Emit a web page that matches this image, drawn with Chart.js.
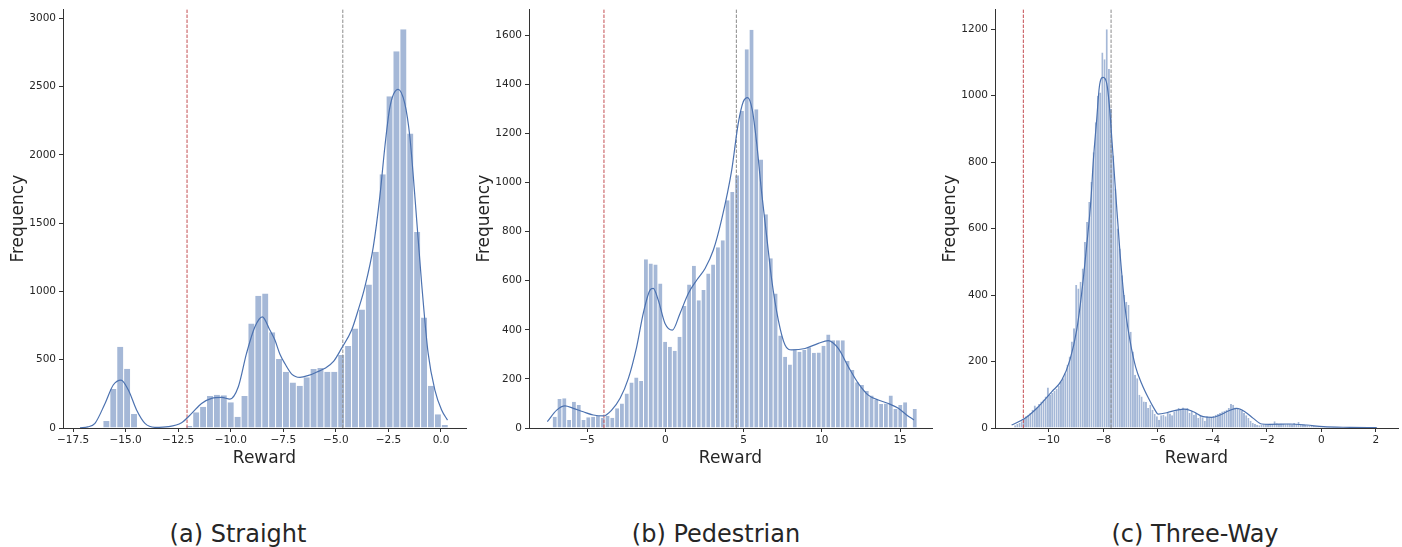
<!DOCTYPE html>
<html>
<head>
<meta charset="utf-8">
<script src="https://cdn.jsdelivr.net/npm/chart.js@4.4.1/dist/chart.umd.min.js"></script>
<style>
  body { margin: 0; background: #fff; }
  #page { position: relative; width: 1402px; height: 547px; background: #fff; overflow: hidden; }
  #page canvas { position: absolute; top: 0; }
  .caption {
    position: absolute; top: 520px; width: 300px; margin-left: -150px;
    text-align: center; font: 24px "DejaVu Sans", sans-serif; color: #262626;
  }
</style>
</head>
<body>
<div id="page">
  <canvas id="straight" width="470" height="470" style="left:0px"></canvas>
  <canvas id="pedestrian" width="470" height="470" style="left:466px"></canvas>
  <canvas id="threeway" width="470" height="470" style="left:932px"></canvas>
  <div class="caption" style="left:238px">(a) Straight</div>
  <div class="caption" style="left:716px">(b) Pedestrian</div>
  <div class="caption" style="left:1195px">(c) Three-Way</div>
</div>
<script>
"use strict";

// (a) Straight
const straightBinStart = -16.08;
const straightBinWidth = 0.3285;
const straightCounts = [51, 285, 595, 434, 102, 0, 0, 0, 0, 0, 0, 0, 15, 115, 156, 234, 244, 239, 188, 83,
  234, 766, 968, 985, 702, 505, 412, 334, 310, 371, 432, 439, 412, 412, 534, 600, 729, 868, 1051, 1290,
  1858, 2429, 2758, 2919, 2156, 1436, 810, 310, 100, 22];
const straightKdeX = [-17.17, -16.8, -16.46, -15.98, -15.59, -15.22, -14.87, -14.48, -14.08, -13.61, -12.97,
  -12.34, -11.86, -11.39, -10.91, -10.43, -10.04, -9.64, -9.25, -8.85, -8.5, -8.14, -7.9, -7.66, -7.42, -7.1,
  -6.71, -6.3, -5.9, -5.52, -5.1, -4.73, -4.25, -3.94, -3.62, -3.22, -2.91, -2.67, -2.43, -2.04, -1.72, -1.48,
  -1.24, -0.92, -0.61, -0.29, 0.03, 0.31];
const straightKdeY = [2, 8, 34, 180, 315, 351, 278, 132, 34, 5, 10,
  39, 107, 180, 217, 224, 212, 302, 546, 741, 814, 717, 644, 540, 470, 395,
  371, 385, 410, 437, 490, 583, 717, 863, 1034, 1326, 1692, 2058, 2350, 2480, 2375, 2131,
  1692, 1058, 546, 278, 132, 58];
const straightLines = [-12.08, -4.67];
const straightXTicks = [-17.5, -15, -12.5, -10, -7.5, -5, -2.5, 0];
const straightYTicks = [0, 500, 1000, 1500, 2000, 2500, 3000];

// (b) Pedestrian
const pedestrianBinStart = -7.22;
const pedestrianBinWidth = 0.3067;
const pedestrianCounts = [46, 118, 121, 33, 107, 94, 33, 44, 46, 50, 42, 50, 42, 80, 100, 141, 185, 206, 191, 688,
  670, 666, 589, 351, 331, 315, 372, 497, 585, 661, 521, 562, 630, 666, 736, 765, 928, 962, 1030, 1292,
  1543, 1623, 1299, 1094, 871, 692, 548, 377, 290, 259, 320, 311, 318, 329, 307, 308, 335, 381, 358, 358,
  358, 273, 236, 186, 175, 151, 132, 114, 98, 100, 132, 77, 94, 105, 0, 77];
const pedestrianKdeX = [-7.54, -6.94, -6.41, -5.88, -5.24, -4.6, -3.96, -3.43, -2.89, -2.36, -1.83, -1.41,
  -0.98, -0.77, -0.45, -0.02, 0.45, 0.94, 1.47, 2.01, 2.54, 3.07, 3.6, 4.24, 4.66, 4.98, 5.26, 5.56, 5.84,
  6.16, 6.48, 6.8, 7.22, 7.65, 8.08, 8.93, 9.78, 10.41, 11.05, 11.69, 12.33, 12.97, 13.61, 14.25, 14.89,
  15.42, 15.89];
const pedestrianKdeY = [26, 73, 90, 80, 66, 53, 49, 73, 121, 202, 331, 467,
  562, 569, 521, 426, 399, 467, 548, 603, 650, 725, 850, 1050, 1241, 1329, 1346, 1295, 1159,
  956, 779, 603, 440, 338, 318, 324, 345, 356, 324, 250, 182, 134, 114, 100, 80,
  53, 33];
const pedestrianLines = [-3.92, 4.54];
const pedestrianXTicks = [-5, 0, 5, 10, 15];
const pedestrianYTicks = [0, 200, 400, 600, 800, 1000, 1200, 1400, 1600];

// (c) Three-Way
const threewayBinStart = -11.28;
const threewayBinWidth = 0.08;
const threewayCounts = [8, 12, 15, 20, 28, 35, 40, 45, 55, 68,
  62, 72, 80, 86, 95, 122, 100, 105, 112, 118,
  128, 140, 150, 165, 190, 215, 260, 300, 430, 420,
  440, 480, 560, 620, 680, 740, 830, 920, 1000, 1010,
  1130, 1110, 1200, 1080, 960, 820, 720, 600, 540, 460,
  400, 380, 370, 290, 230, 160, 150, 100, 95, 80,
  78, 60, 70, 55, 42, 35, 25, 38, 40, 35,
  45, 44, 38, 50, 55, 60, 57, 62, 58, 60,
  45, 52, 40, 45, 30, 38, 32, 22, 35, 30,
  34, 36, 40, 42, 45, 50, 52, 55, 60, 72,
  70, 62, 60, 55, 52, 45, 38, 30, 22, 15,
  12, 10, 8, 9, 11, 12, 11, 13, 12, 20,
  14, 12, 13, 12, 11, 13, 12, 11, 15, 12,
  18, 10, 9, 10, 8, 7, 6, 6, 5, 5,
  4, 4, 3, 3, 3, 2, 3, 2, 2, 2,
  2, 1, 2, 1, 1, 1, 1, 1, 1, 0,
  1, 0, 1, 0, 1, 0, 1];
const threewayKdeX = [-11.37, -10.88, -10.39, -9.9, -9.53, -9.23, -8.98, -8.8, -8.62, -8.46, -8.37, -8.25,
  -8.15, -8.01, -7.88, -7.79, -7.68, -7.55, -7.39, -7.21, -7.03, -6.82, -6.6, -6.35, -6.15, -5.99, -5.68,
  -5.31, -5.01, -4.7, -4.34, -4.03, -3.72, -3.42, -3.11, -2.81, -2.5, -2.19, -1.89, -1.15, -0.54, 0.07,
  1.05, 2.03];
const threewayKdeY = [9, 29, 64, 109, 144, 205, 295, 405, 545, 686, 806, 926,
  1027, 1055, 1037, 977, 856, 706, 525, 365, 265, 184, 134, 90, 60, 42, 46,
  54, 57, 49, 34, 32, 39, 51, 59, 49, 29, 12, 11, 12, 9, 4,
  2, 1];
const threewayLines = [-10.94, -7.72];
const threewayXTicks = [-10, -8, -6, -4, -2, 0, 2];
const threewayYTicks = [0, 200, 400, 600, 800, 1000, 1200];

const ink = '#262626';
const spine = '#333333';
const barFill = 'rgba(76, 114, 176, 0.5)';
const kdeColor = '#4c72b0';
const lineColors = ['#c44e52', '#8c8c8c'];

function fmt(v, decimals) {
    return v.toFixed(decimals).replace('-', '\u2212');
}

function drawPanel(id, binStart, binWidth, counts, kdeX, kdeY, lines, xTicks, yTicks, view) {
    const bars = counts.map((c, i) => ({x: binStart + binWidth * (i + 0.5), y: c}));
    const kde = kdeX.map((x, i) => ({x: x, y: kdeY[i]}));

    const datasets = [
        {
            type: 'bar',
            data: bars,
            backgroundColor: barFill,
            borderColor: 'rgba(255, 255, 255, 0.9)',
            borderWidth: {left: view.edge, right: view.edge, top: 0, bottom: 0},
            inflateAmount: 0,
            barPercentage: 1,
            categoryPercentage: 1,
            order: 3
        },
        {
            type: 'line',
            data: kde,
            borderColor: kdeColor,
            borderWidth: 1.2,
            pointRadius: 0,
            cubicInterpolationMode: 'monotone',
            fill: false,
            order: 1
        }
    ];
    lines.forEach((v, k) => {
        datasets.push({
            type: 'line',
            data: [{x: v, y: 0}, {x: v, y: view.yMax}],
            borderColor: lineColors[k],
            borderWidth: 1,
            borderDash: [3.5, 1.5],
            pointRadius: 0,
            fill: false,
            order: 2
        });
    });

    const ctx = document.getElementById(id).getContext('2d');
    return new Chart(ctx, {
        data: {datasets: datasets},
        options: {
            responsive: false,
            animation: false,
            devicePixelRatio: 1,
            layout: {padding: {left: 0, right: 4, top: 9, bottom: 0}},
            plugins: {legend: {display: false}, tooltip: {enabled: false}},
            scales: {
                x: {
                    type: 'linear',
                    min: view.xMin,
                    max: view.xMax,
                    offset: false,
                    bounds: 'data',
                    afterBuildTicks: (scale) => { scale.ticks = xTicks.map(v => ({value: v})); },
                    afterFit: (scale) => { scale.height = 42; },
                    ticks: {
                        autoSkip: false, maxRotation: 0, padding: 2, color: ink,
                        font: {family: 'DejaVu Sans', size: 10.5},
                        callback: (v) => fmt(v, view.decimals)
                    },
                    grid: {display: true, drawOnChartArea: false, drawTicks: true, tickLength: 4, color: spine, offset: false},
                    border: {display: true, color: spine, width: 1},
                    title: {display: true, text: 'Reward', color: ink, padding: {top: 0, bottom: 1},
                        font: {family: 'DejaVu Sans', size: 17}}
                },
                y: {
                    type: 'linear',
                    min: 0,
                    max: view.yMax,
                    bounds: 'data',
                    afterBuildTicks: (scale) => { scale.ticks = yTicks.map(v => ({value: v})); },
                    afterFit: (scale) => { scale.width = 63; },
                    ticks: {
                        autoSkip: false, padding: 3, color: ink,
                        font: {family: 'DejaVu Sans', size: 10.5},
                        callback: (v) => String(v)
                    },
                    grid: {display: true, drawOnChartArea: false, drawTicks: true, tickLength: 4, color: spine},
                    border: {display: true, color: spine, width: 1},
                    title: {display: true, text: 'Frequency', color: ink, padding: {top: 8, bottom: 0},
                        font: {family: 'DejaVu Sans', size: 17}}
                }
            }
        }
    });
}

drawPanel('straight', straightBinStart, straightBinWidth, straightCounts, straightKdeX, straightKdeY,
    straightLines, straightXTicks, straightYTicks,
    {xMin: -17.98, xMax: 1.19, yMax: 3066, decimals: 1, edge: 0.5});
drawPanel('pedestrian', pedestrianBinStart, pedestrianBinWidth, pedestrianCounts, pedestrianKdeX, pedestrianKdeY,
    pedestrianLines, pedestrianXTicks, pedestrianYTicks,
    {xMin: -8.71, xMax: 17.04, yMax: 1706, decimals: 0, edge: 0.5});
drawPanel('threeway', threewayBinStart, threewayBinWidth, threewayCounts, threewayKdeX, threewayKdeY,
    threewayLines, threewayXTicks, threewayYTicks,
    {xMin: -11.98, xMax: 2.81, yMax: 1260, decimals: 0, edge: 0.1});
</script>
</body>
</html>
